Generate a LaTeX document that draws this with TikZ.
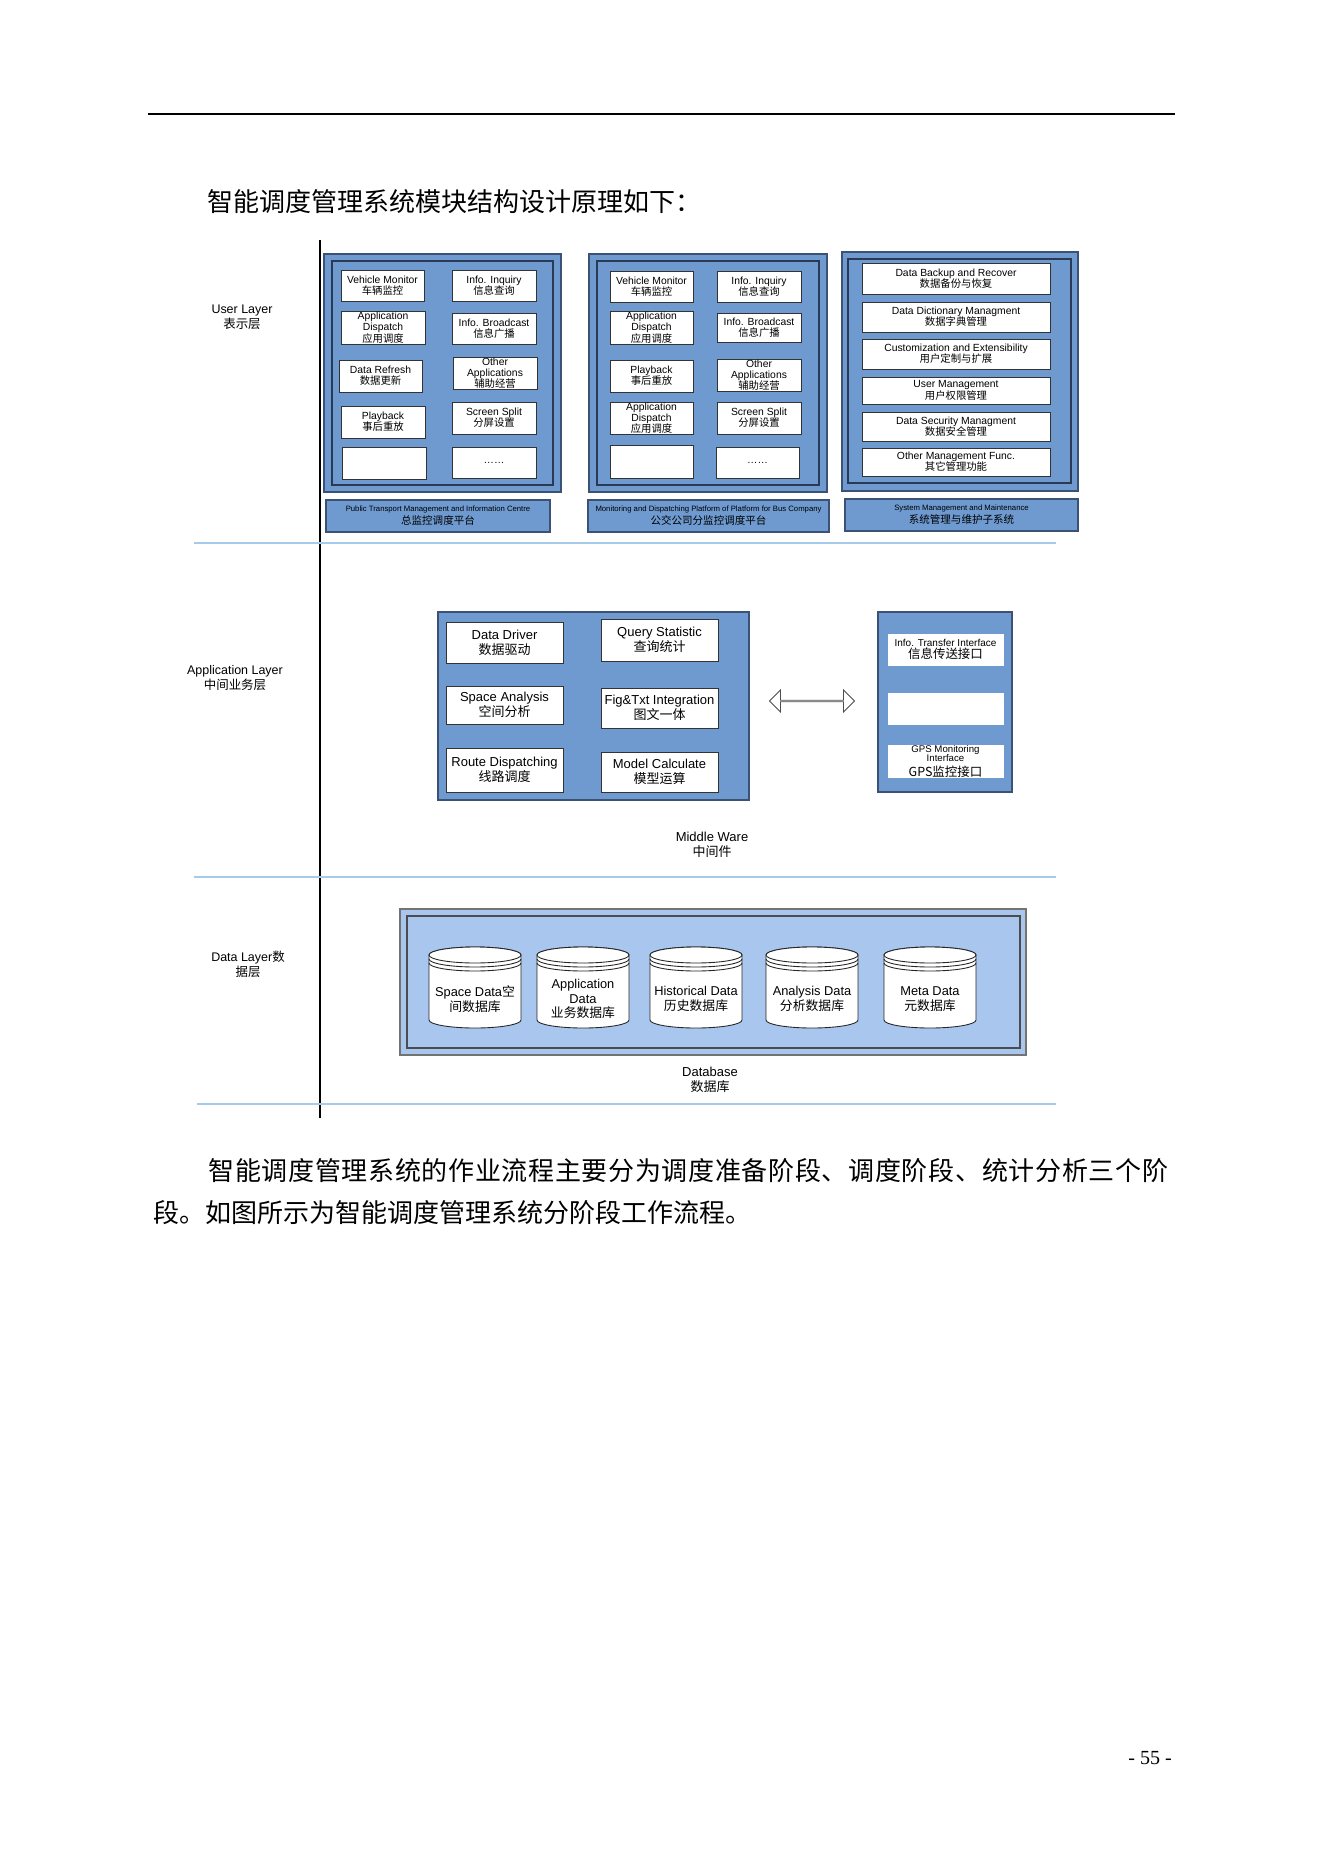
\documentclass[tikz,border=0pt]{standalone}
\usepackage{fontspec}
\setmainfont{Liberation Sans}
\newfontfamily\cjk{Noto Sans CJK SC}
\newfontfamily\tnr{Liberation Serif}
\usetikzlibrary{shapes.arrows, shadows}

\newcommand{\fsz}[2]{\fontsize{#1}{#2}\selectfont}

\definecolor{panelblue}{HTML}{6E9AD0}
\definecolor{paneledge}{HTML}{3C5275}
\definecolor{innerline}{HTML}{2A3A55}
\definecolor{dbblue}{HTML}{A9C6EE}
\definecolor{sepblue}{HTML}{A6CBEA}

\tikzset{
  wh/.style 2 args={minimum width={(#1)*0.02cm}, minimum height={(#2)*0.02cm}},
  panel/.style={draw=paneledge, fill=panelblue, line width=0.9pt, inner sep=0pt},
  innerpanel/.style={draw=innerline, line width=0.7pt, inner sep=0pt},
  ubox/.style={draw=black!80, fill=white, line width=0.5pt, inner sep=0pt, align=center, font=\fsz{5.9}{6.4},
    drop shadow={shadow xshift=0.7pt, shadow yshift=-0.7pt, fill=black!75, opacity=1}},
  bar/.style={panel, align=center, font=\fsz{6}{7.4}},
  mbox/.style={draw=black!80, fill=white, line width=0.5pt, inner sep=0pt, align=center, font=\fsz{7.4}{8.6}},
  ibox/.style={draw=white, fill=white, inner sep=0pt, align=center, font=\fsz{5.7}{6.6}},
  layer/.style={align=center, inner sep=0pt, font=\fsz{7.1}{8.5}},
  sep/.style={draw=sepblue, line width=1pt},
  dbpanel/.style={draw=black!55, fill=dbblue, line width=0.7pt, inner sep=0pt},
  dbcyl/.style={draw=black!85, line width=0.5pt, fill=white},
  dbtext/.style={align=center, inner sep=0pt, font=\fsz{7.3}{8.2}},
  dblarrow/.style={double arrow, draw=black!70, fill=white, line width=0.5pt, inner sep=0pt,
    minimum height=1.7cm, minimum width=0.44cm, double arrow head extend=0.12cm},
  bodytext/.style={anchor=west, inner sep=0pt, font=\cjk\fsz{14.8}{16}},
}

\begin{document}
\begin{tikzpicture}[x=0.02cm, y=-0.02cm]
  \fill[white] (0,0) rectangle (1323,1871);
  \useasboundingbox (0,0) rectangle (1323,1871);

  % page rule and heading
  \draw[line width=1.5pt] (148,114) -- (1175,114);
  \node[bodytext] (title) at (207,202) {智能调度管理系统模块结构设计原理如下：};

  % layer separators
  \draw[line width=1.1pt] (320,240) -- (320,1118);
  \foreach \y in {543,877}
    \draw[sep] (194,\y) -- (1056,\y);
  \draw[sep] (197,1104) -- (1056,1104);

  % layer names
  \node[layer] (lUser) at (242,317) {User Layer\\{\cjk 表示层}};
  \node[layer] (lApp) at (235,678) {Application Layer\\{\cjk 中间业务层}};
  \node[layer] (lData) at (248,964) {Data Layer{\cjk 数}\\{\cjk 据层}};

  % user layer: public transport centre
  \node[panel, wh={237}{238}] (ptOut) at (442.5,373) {};
  \node[innerpanel, wh={221}{224}] (ptIn) at (442.5,373) {};
  \foreach \n/\xa/\ya/\xb/\yb/\t in {
      ptVM/341/270/424/301/{Vehicle Monitor\\{\cjk 车辆监控}},
      ptII/452/270/536/301/{Info. Inquiry\\{\cjk 信息查询}},
      ptAD/341/311/425/344/{Application\\Dispatch\\{\cjk 应用调度}},
      ptIB/452/313/536/344/{Info. Broadcast\\{\cjk 信息广播}},
      ptDR/339/360/422/392/{Data Refresh\\{\cjk 数据更新}},
      ptOA/453/357/537/389/{Other\\Applications\\{\cjk 辅助经营}},
      ptPB/341/406/425/438/{Playback\\{\cjk 事后重放}},
      ptSS/452/402/536/434/{Screen Split\\{\cjk 分屏设置}},
      ptE1/342/447/426/479/{},
      ptE2/452/447/536/478/{……}}
    \node[ubox, wh={\xb-\xa}{\yb-\ya}] (\n) at ({(\xa+\xb)/2},{(\ya+\yb)/2}) {\t};
  \node[bar, wh={224}{32}] (ptBar) at (438,516)
    {{\fsz{4.4}{5}Public Transport Management and Information Centre}\\{\cjk 总监控调度平台}};

  % user layer: bus company platform
  \node[panel, wh={238}{238}] (bcOut) at (708,373) {};
  \node[innerpanel, wh={222}{224}] (bcIn) at (708,373) {};
  \foreach \n/\xa/\ya/\xb/\yb/\t in {
      bcVM/610/271/693/302/{Vehicle Monitor\\{\cjk 车辆监控}},
      bcII/717/271/801/302/{Info. Inquiry\\{\cjk 信息查询}},
      bcAD/610/311/693/344/{Application\\Dispatch\\{\cjk 应用调度}},
      bcIB/717/313/801/342/{Info. Broadcast\\{\cjk 信息广播}},
      bcPB/610/360/693/392/{Playback\\{\cjk 事后重放}},
      bcOA/717/359/801/391/{Other\\Applications\\{\cjk 辅助经营}},
      bcAE/610/402/693/434/{Application\\Dispatch\\{\cjk 应用调度}},
      bcSS/717/402/801/434/{Screen Split\\{\cjk 分屏设置}},
      bcE1/610/445/693/478/{},
      bcE2/716/447/799/478/{……}}
    \node[ubox, wh={\xb-\xa}{\yb-\ya}] (\n) at ({(\xa+\xb)/2},{(\ya+\yb)/2}) {\t};
  \node[bar, wh={241}{32}] (bcBar) at (708.5,516)
    {{\fsz{4.4}{5}Monitoring and Dispatching Platform of Platform for Bus Company}\\{\cjk 公交公司分监控调度平台}};

  % user layer: system management
  \node[panel, wh={236}{239}] (smOut) at (960,371.5) {};
  \node[innerpanel, wh={223}{224}] (smIn) at (959.5,371) {};
  \foreach \n/\ya/\yb/\t in {
      smBK/263/294/{Data Backup and Recover\\{\cjk 数据备份与恢复}},
      smDD/302/332/{Data Dictionary Managment\\{\cjk 数据字典管理}},
      smCE/339/369/{Customization and Extensibility\\{\cjk 用户定制与扩展}},
      smUM/377/404/{User Management\\{\cjk 用户权限管理}},
      smDS/412/441/{Data Security Managment\\{\cjk 数据安全管理}},
      smOM/448/476/{Other Management Func.\\{\cjk 其它管理功能}}}
    \node[ubox, wh={188}{\yb-\ya}] (\n) at (956,{(\ya+\yb)/2}) {\t};
  \node[bar, wh={233}{32}] (smBar) at (961.5,515)
    {{\fsz{4.4}{5}System Management and Maintenance}\\{\cjk 系统管理与维护子系统}};

  % application layer: middle ware
  \node[panel, wh={311}{188}] (mw) at (593.5,706) {};
  \foreach \n/\xa/\ya/\xb/\yb/\t in {
      mwDD/446/622/563/663/{Data Driver\\{\cjk 数据驱动}},
      mwQS/601/619/718/661/{Query Statistic\\{\cjk 查询统计}},
      mwSA/446/686/563/724/{Space Analysis\\{\cjk 空间分析}},
      mwFT/601/688/718/728/{Fig\&Txt Integration\\{\cjk 图文一体}},
      mwRD/446/748/563/792/{Route Dispatching\\{\cjk 线路调度}},
      mwMC/601/752/718/792/{Model Calculate\\{\cjk 模型运算}}}
    \node[mbox, wh={\xb-\xa}{\yb-\ya}] (\n) at ({(\xa+\xb)/2},{(\ya+\yb)/2}) {\t};
  \node[layer, font=\fsz{7.4}{8.2}] (lMW) at (712,845) {Middle Ware\\{\cjk 中间件}};

  % interfaces
  \node[panel, wh={134}{180}] (ifc) at (945,702) {};
  \node[ibox, wh={115}{31}] (ifcIT) at (945.5,649.5)
    {Info. Transfer Interface\\{\cjk\fsz{7.1}{7.6}信息传送接口}};
  \node[ibox, wh={115}{31}] (ifcE) at (945.5,708.5) {};
  \node[ibox, wh={115}{31}, font=\fsz{5.5}{5.4}] (ifcGPS) at (945.5,761.5)
    {GPS Monitoring\\Interface\\[1.5pt]{\cjk\fsz{7.1}{7.6}GPS监控接口}};
  \node[dblarrow] (mwLink) at (812,701) {};

  % data layer
  \node[dbpanel, wh={626}{146}] (dbOut) at (713,982) {};
  \node[draw=black!70, line width=0.6pt, inner sep=0pt, wh={613}{132}] (dbIn) at (713.5,982) {};
  \foreach \n/\cx/\t in {
      dbSpace/475/{Space Data{\cjk 空}\\{\cjk 间数据库}},
      dbApp/583/{Application\\Data\\{\cjk 业务数据库}},
      dbHist/696/{Historical Data\\{\cjk 历史数据库}},
      dbAna/812/{Analysis Data\\{\cjk 分析数据库}},
      dbMeta/930/{Meta Data\\{\cjk 元数据库}}}{
    \filldraw[dbcyl] (\cx-46,955) -- (\cx-46,1020)
      arc[start angle=180, end angle=0, x radius=46, y radius=8] -- (\cx+46,955)
      arc[start angle=0, end angle=-180, x radius=46, y radius=8] -- cycle;
    \draw[dbcyl] (\cx,955) ellipse [x radius=46, y radius=8];
    \foreach \k in {4,8}
      \draw[dbcyl, fill=none] (\cx-46,955+\k) arc[start angle=180, end angle=0, x radius=46, y radius=8];
    \node[dbtext] (\n) at (\cx,999) {\t};
  }
  \node[layer, font=\fsz{7.4}{8.4}] (lDB) at (710,1080) {Database\\{\cjk 数据库}};

  % body text and page number
  \node[bodytext] (para1) at (208,1171)
    {\addfontfeature{LetterSpace=2.6}智能调度管理系统的作业流程主要分为调度准备阶段、调度阶段、统计分析三个阶};
  \node[bodytext] (para2) at (153,1213) {段。如图所示为智能调度管理系统分阶段工作流程。};
  \node[font=\tnr\fsz{11.4}{12}] (pageNo) at (1150,1758) {- 55 -};
\end{tikzpicture}
\end{document}
